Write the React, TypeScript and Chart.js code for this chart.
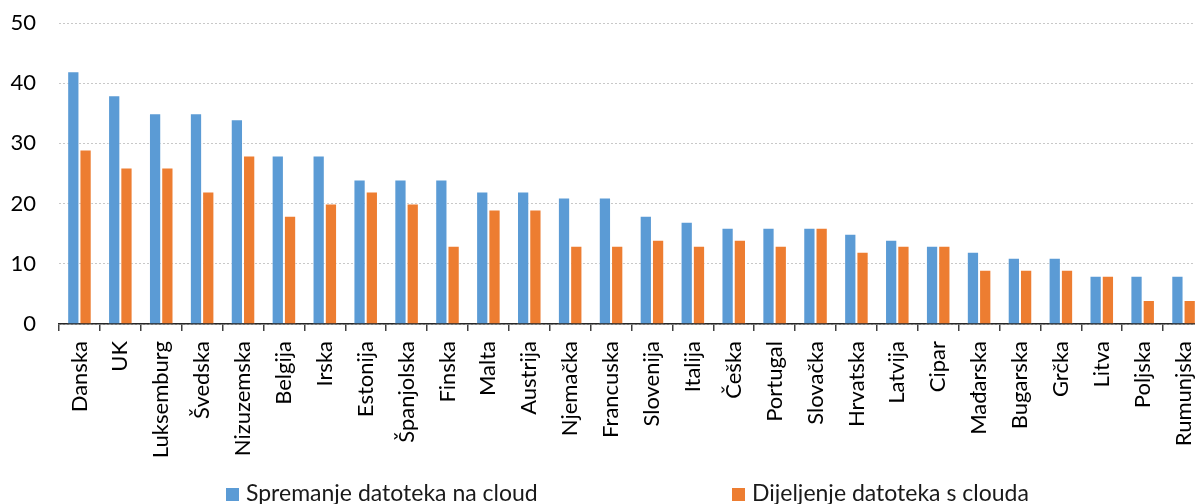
import React, { useEffect, useRef } from "react";
import { Chart, registerables } from "chart.js";

Chart.register(...registerables);

const categories = [
  "Danska", "UK", "Luksemburg", "Švedska", "Nizuzemska", "Belgija", "Irska",
  "Estonija", "Španjolska", "Finska", "Malta", "Austrija", "Njemačka", "Francuska",
  "Slovenija", "Italija", "Češka", "Portugal", "Slovačka", "Hrvatska", "Latvija",
  "Cipar", "Mađarska", "Bugarska", "Grčka", "Litva", "Poljska", "Rumunjska",
];
const storing = [42, 38, 35, 35, 34, 28, 28, 24, 24, 24, 22, 22, 21, 21, 18, 17, 16, 16, 16, 15, 14, 13, 12, 11, 11, 8, 8, 8];
const sharing = [29, 26, 26, 22, 28, 18, 20, 22, 20, 13, 19, 19, 13, 13, 14, 13, 14, 13, 16, 12, 13, 13, 9, 9, 9, 8, 4, 4];
const seriesNames = ["Spremanje datoteka na cloud", "Dijeljenje datoteka s clouda"];
const seriesColors = ["#5B9BD5", "#ED7D31"];
const yTicks = [0, 10, 20, 30, 40, 50];

const FONT = "Lato, 'Open Sans', sans-serif";

const legendPlugin = {
  id: "customLegend",
  afterDraw(chart: any) {
    const ctx = chart.ctx;
    const xs = [226, 732];
    const y = 494;
    ctx.save();
    ctx.font = `23px ${FONT}`;
    ctx.textBaseline = "middle";
    ctx.textAlign = "left";
    seriesNames.forEach((name, i) => {
      ctx.fillStyle = seriesColors[i];
      ctx.fillRect(xs[i], y - 6, 13, 13);
      ctx.fillStyle = "#1a1a1a";
      ctx.fillText(name, xs[i] + 20, y);
    });
    ctx.restore();
  },
};

export default function App() {
  const ref = useRef<HTMLCanvasElement>(null);
  useEffect(() => {
    if (!ref.current) return;
    const chart = new Chart(ref.current, {
      type: "bar",
      data: {
        labels: categories,
        datasets: [
          { label: seriesNames[0], data: storing, backgroundColor: seriesColors[0], borderColor: "rgba(255,255,255,0.45)", borderWidth: 1, categoryPercentage: 0.6, barPercentage: 1.0 },
          { label: seriesNames[1], data: sharing, backgroundColor: seriesColors[1], borderColor: "rgba(255,255,255,0.45)", borderWidth: 1, categoryPercentage: 0.6, barPercentage: 1.0 },
        ],
      },
      options: {
        animation: false,
        responsive: false,
        maintainAspectRatio: false,
        layout: { padding: { top: 23, right: 0, bottom: 0, left: 0 } },
        plugins: { legend: { display: false }, tooltip: { enabled: false } },
        scales: {
          x: {
            grid: { offset: true, drawOnChartArea: false, drawTicks: true, tickLength: 7, color: "#404040", lineWidth: 1.5 },
            border: { display: true, color: "#262626", width: 1.5 },
            ticks: { minRotation: 90, maxRotation: 90, autoSkip: false, padding: 10, color: "#000", font: { family: FONT, size: 22 } },
            afterFit: (s: any) => { s.height = 180; s.paddingLeft = 0; s.paddingRight = 0; },
          },
          y: {
            min: 0,
            max: 50,
            afterBuildTicks: (s: any) => { s.ticks = yTicks.map((v) => ({ value: v })); },
            grid: { color: "#c8c8c8", drawTicks: false, lineWidth: 1 },
            border: { display: false, dash: [2, 2] },
            ticks: { padding: 23, color: "#000", font: { family: FONT, size: 22 } },
            afterFit: (s: any) => { s.width = 59; s.paddingTop = 0; s.paddingBottom = 0; },
          },
        },
      },
      plugins: [legendPlugin],
    });
    return () => chart.destroy();
  }, []);
  return (
    <div style={{ position: "fixed", left: 0, top: 0, width: 1195, height: 504, background: "#fff", overflow: "hidden" }}>
      <canvas ref={ref} width={1204} height={504} style={{ width: 1204, height: 504, display: "block" }} />
    </div>
  );
}
